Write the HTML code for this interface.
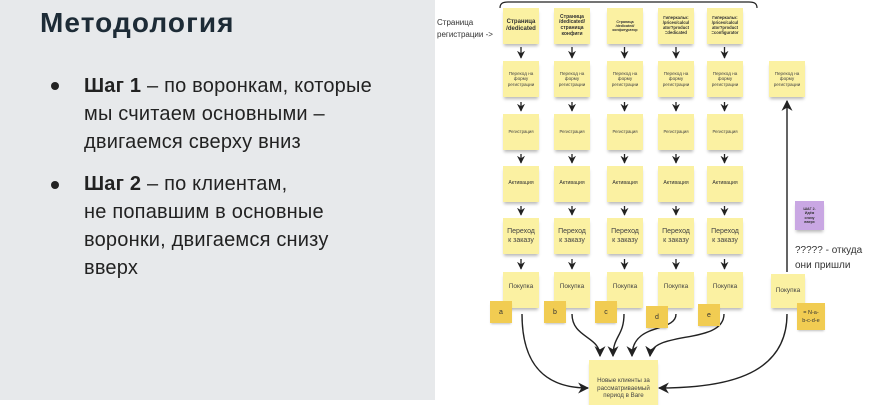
<!DOCTYPE html>
<html><head><meta charset="utf-8"><style>
*{margin:0;padding:0;box-sizing:border-box}
body{width:870px;height:400px;position:relative;overflow:hidden;background:#fff;font-family:"Liberation Sans","Noto Sans CJK SC",sans-serif}
#left{position:absolute;left:0;top:0;width:435px;height:400px;background:#e7e9eb}
h1{position:absolute;left:40px;top:7px;font-size:28px;font-weight:bold;color:#1d2b36;letter-spacing:1.1px}
.bl{position:absolute;left:84px;font-size:20px;letter-spacing:0.2px;line-height:28px;color:#222;white-space:nowrap}
.dot{position:absolute;left:51px;width:8px;height:8px;border-radius:50%;background:#222}
.n{position:absolute;width:36px;height:36px;background:#fbf1a2;display:flex;align-items:center;justify-content:center;text-align:center;color:#444;box-shadow:0 3px 3px -1px rgba(0,0,0,0.28);line-height:1.15;overflow:hidden}
.s{position:absolute;width:22px;height:22px;background:#f1cc52;display:flex;align-items:center;justify-content:center;font-size:7px;color:#333;box-shadow:0 2px 2px -1px rgba(0,0,0,0.25)}
.t{position:absolute;color:#333;white-space:nowrap}
</style></head><body>
<div id="left"></div>
<h1>Методология</h1>
<div class="dot" style="top:82px"></div>
<div class="bl" style="top:72px"><b>Шаг 1</b> – по воронкам, которые<br>мы считаем основными –<br>двигаемся сверху вниз</div>
<div class="dot" style="top:181px"></div>
<div class="bl" style="top:170px"><b>Шаг 2</b> – по клиентам,<br>не попавшим в основные<br>воронки, двигаемся снизу<br>вверх</div>

<div class="t" style="left:437px;top:17px;font-size:8px;line-height:12px">Страница<br>регистрации -&gt;</div>

<svg width="870" height="400" style="position:absolute;left:0;top:0" xmlns="http://www.w3.org/2000/svg">
<defs>
<marker id="ah" viewBox="0 0 10 10" refX="9" refY="5" markerWidth="8" markerHeight="8" markerUnits="userSpaceOnUse" orient="auto"><path d="M0,0 L10,5 L0,10 L3,5 Z" fill="#222"/></marker>
<marker id="ab" viewBox="0 0 10 10" refX="9" refY="5" markerWidth="11" markerHeight="11" markerUnits="userSpaceOnUse" orient="auto"><path d="M0,0 L10,5 L0,10 L3,5 Z" fill="#222"/></marker>
</defs>
<path d="M500,8 C500,4 502,2 508,2 L749,2 C755,2 757,4 757,8" fill="none" stroke="#222" stroke-width="1.2"/>
<g stroke="#222" stroke-width="1.3" fill="none" marker-end="url(#ah)">
<path d="M521,47 L521,58"/><path d="M572,47 L572,58"/><path d="M624.5,47 L624.5,58"/><path d="M676,47 L676,58"/><path d="M724.5,47 L724.5,58"/>
<path d="M521,102 L521,111"/><path d="M572,102 L572,111"/><path d="M624.5,102 L624.5,111"/><path d="M676,102 L676,111"/><path d="M724.5,102 L724.5,111"/>
<path d="M521,154 L521,163"/><path d="M572,154 L572,163"/><path d="M624.5,154 L624.5,163"/><path d="M676,154 L676,163"/><path d="M724.5,154 L724.5,163"/>
<path d="M521,206 L521,215"/><path d="M572,206 L572,215"/><path d="M624.5,206 L624.5,215"/><path d="M676,206 L676,215"/><path d="M724.5,206 L724.5,215"/>
<path d="M521,259 L521,269"/><path d="M572,259 L572,269"/><path d="M624.5,259 L624.5,269"/><path d="M676,259 L676,269"/><path d="M724.5,259 L724.5,269"/>
</g>
<g stroke="#222" stroke-width="1.4" fill="none" marker-end="url(#ab)">
<path d="M787,272 L787,101"/>
<path d="M522,314 C522,365 545,388 588,388"/>
<path d="M572,314 C572,338 600,336 600,356"/>
<path d="M624,314 C624,336 613,336 613,356"/>
<path d="M676,314 C676,333 632,322 632,356"/>
<path d="M724,314 C724,345 652,330 650,356"/>
<path d="M787,314 C787,378 720,388 659,388"/>
</g>
</svg>

<!-- row 1 -->
<div class="n" style="left:503px;top:8px;font-size:6px;font-weight:bold;color:#333">Страница<br>/dedicated</div>
<div class="n" style="left:554px;top:8px;font-size:5px;font-weight:bold;color:#333">Страница<br>/dedicated/<br>страница<br>конфиги</div>
<div class="n" style="left:607px;top:8px;font-size:3.6px;font-weight:bold;color:#333">Страница<br>/dedicated/<br>конфигуратор</div>
<div class="n" style="left:658px;top:8px;font-size:4.2px;font-weight:bold;color:#333">Гиперкальк:<br>/prices/calcul<br>ator?product<br>=dedicated</div>
<div class="n" style="left:707px;top:8px;font-size:4.2px;font-weight:bold;color:#333">Гиперкальк:<br>/prices/calcul<br>ator?product<br>=configurator</div>
<!-- row 2 -->
<div class="n" style="left:503px;top:61px;font-size:4.6px">Переход на<br>форму<br>регистрации</div>
<div class="n" style="left:554px;top:61px;font-size:4.6px">Переход на<br>форму<br>регистрации</div>
<div class="n" style="left:607px;top:61px;font-size:4.6px">Переход на<br>форму<br>регистрации</div>
<div class="n" style="left:658px;top:61px;font-size:4.6px">Переход на<br>форму<br>регистрации</div>
<div class="n" style="left:707px;top:61px;font-size:4.6px">Переход на<br>форму<br>регистрации</div>
<div class="n" style="left:769px;top:61px;font-size:4.6px">Переход на<br>форму<br>регистрации</div>
<!-- row 3 -->
<div class="n" style="left:503px;top:114px;font-size:4.3px">Регистрация</div>
<div class="n" style="left:554px;top:114px;font-size:4.3px">Регистрация</div>
<div class="n" style="left:607px;top:114px;font-size:4.3px">Регистрация</div>
<div class="n" style="left:658px;top:114px;font-size:4.3px">Регистрация</div>
<div class="n" style="left:707px;top:114px;font-size:4.3px">Регистрация</div>
<!-- row 4 -->
<div class="n" style="left:503px;top:166px;font-size:5.2px;color:#333">Активация</div>
<div class="n" style="left:554px;top:166px;font-size:5.2px;color:#333">Активация</div>
<div class="n" style="left:607px;top:166px;font-size:5.2px;color:#333">Активация</div>
<div class="n" style="left:658px;top:166px;font-size:5.2px;color:#333">Активация</div>
<div class="n" style="left:707px;top:166px;font-size:5.2px;color:#333">Активация</div>
<!-- row 5 -->
<div class="n" style="left:503px;top:218px;font-size:7px;line-height:9px">Переход<br>к заказу</div>
<div class="n" style="left:554px;top:218px;font-size:7px;line-height:9px">Переход<br>к заказу</div>
<div class="n" style="left:607px;top:218px;font-size:7px;line-height:9px">Переход<br>к заказу</div>
<div class="n" style="left:658px;top:218px;font-size:7px;line-height:9px">Переход<br>к заказу</div>
<div class="n" style="left:707px;top:218px;font-size:7px;line-height:9px">Переход<br>к заказу</div>
<!-- row 6 -->
<div class="n" style="left:503px;top:272px;font-size:6.5px;align-items:flex-start;padding-top:11px">Покупка</div>
<div class="n" style="left:554px;top:272px;font-size:6.5px;align-items:flex-start;padding-top:11px">Покупка</div>
<div class="n" style="left:607px;top:272px;font-size:6.5px;align-items:flex-start;padding-top:11px">Покупка</div>
<div class="n" style="left:658px;top:272px;font-size:6.5px;align-items:flex-start;padding-top:11px">Покупка</div>
<div class="n" style="left:707px;top:272px;font-size:6.5px;align-items:flex-start;padding-top:11px">Покупка</div>
<div class="n" style="left:771px;top:274px;width:34px;height:34px;font-size:6.5px">Покупка</div>

<div class="s" style="left:490px;top:301px">a</div>
<div class="s" style="left:544px;top:301px">b</div>
<div class="s" style="left:595px;top:301px">c</div>
<div class="s" style="left:646px;top:306px">d</div>
<div class="s" style="left:698px;top:304px">e</div>
<div class="s" style="left:797px;top:303px;width:28px;height:27px;font-size:5.5px;line-height:8px;text-align:center">= N-a-<br>b-c-d-e</div>

<div class="n" style="left:795px;top:201px;width:29px;height:29px;background:#c9a7e3;font-size:3.6px;font-weight:bold;color:#333">ШАГ 2.<br>Идём<br>снизу<br>вверх</div>
<div class="t" style="left:795px;top:243px;font-size:10px;line-height:15px">????? - откуда<br>они пришли</div>

<div class="n" style="left:589px;top:360px;width:69px;height:45px;font-size:6.2px;line-height:7.5px;align-items:flex-start;padding-top:17px">Новые клиенты за<br>рассматриваемый<br>период в Bare</div>
</body></html>
